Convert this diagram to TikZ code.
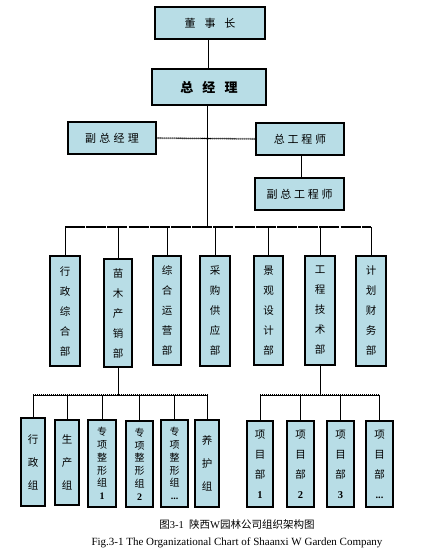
\documentclass[tikz,border=0pt]{standalone}
\usepackage{fontspec}
\newfontfamily\cjk{Noto Sans CJK SC}
\setmainfont{Liberation Serif}
\definecolor{boxblue}{RGB}{184,221,230}
\begin{document}
\begin{tikzpicture}[x=1pt,y=-1pt,
  box/.style={draw=black,line width=1.1pt,fill=boxblue,inner sep=0pt},
  topbox/.style={box,font=\cjk\fontsize{11}{13}\selectfont},
  deptbox/.style={box,align=center,font=\cjk\fontsize{10.5}{20}\selectfont},
  grpbox/.style={box,align=center,font=\cjk\fontsize{10.5}{23}\selectfont},
  tightbox/.style={box,align=center,font=\cjk\fontsize{10}{12.8}\selectfont},
  projbox/.style={box,align=center,font=\cjk\fontsize{10.5}{20}\selectfont},
  link/.style={line width=0.8pt},
  bus/.style={line width=2pt,dash pattern=on 20pt off 1.2pt},
  ticks/.style={line width=2pt,dash pattern=on 0.6pt off 1.4pt},
  thinline/.style={line width=0.6pt}]
\useasboundingbox (0,0) rectangle (435,553);
% top
\node[topbox,minimum width=110pt,minimum height=32pt] (ds) at (210,23) {董\hspace{0.8em}事\hspace{0.8em}长};
\node[topbox,minimum width=114pt,minimum height=36pt,font=\cjk\bfseries\fontsize{13}{15}\selectfont] (zjl) at (209,87) {总\hspace{0.7em}经\hspace{0.7em}理};
\node[topbox,minimum width=88pt,minimum height=32pt] (fzjl) at (112,138) {副\hspace{0.3em}总\hspace{0.3em}经\hspace{0.3em}理};
\node[topbox,minimum width=88pt,minimum height=32pt] (zgcs) at (300,139) {总\hspace{0.25em}工\hspace{0.25em}程\hspace{0.25em}师};
\node[topbox,minimum width=89pt,minimum height=32pt] (fzgcs) at (299.5,194) {副\hspace{0.25em}总\hspace{0.25em}工\hspace{0.25em}程\hspace{0.25em}师};
% departments
\node[deptbox,minimum width=30pt,minimum height=110pt] (d1) at (65,311) {行\\政\\综\\合\\部};
\node[deptbox,minimum width=28pt,minimum height=108pt] (d2) at (118,313) {苗\\木\\产\\销\\部};
\node[deptbox,minimum width=28pt,minimum height=109pt] (d3) at (167,310.5) {综\\合\\运\\营\\部};
\node[deptbox,minimum width=30pt,minimum height=110pt] (d4) at (215,311) {采\\购\\供\\应\\部};
\node[deptbox,minimum width=29pt,minimum height=109pt] (d5) at (268.5,310.5) {景\\观\\设\\计\\部};
\node[deptbox,minimum width=30pt,minimum height=109pt] (d6) at (320,310.5) {工\\程\\技\\术\\部};
\node[deptbox,minimum width=30pt,minimum height=110pt] (d7) at (371,311) {计\\划\\财\\务\\部};
% groups
\node[grpbox,minimum width=24pt,minimum height=88pt] (g1) at (33,462) {行\\政\\组};
\node[grpbox,minimum width=24pt,minimum height=85pt] (g2) at (67,462.5) {生\\产\\组};
\node[tightbox,minimum width=28pt,minimum height=87pt] (g3) at (102,463.5) {专\\项\\整\\形\\组\\{\rmfamily\bfseries 1}};
\node[tightbox,minimum width=27pt,minimum height=86pt] (g4) at (139.5,464) {专\\项\\整\\形\\组\\{\rmfamily\bfseries 2}};
\node[tightbox,minimum width=27pt,minimum height=87pt] (g5) at (174.5,463.5) {专\\项\\整\\形\\组\\{\rmfamily\bfseries ...}};
\node[grpbox,minimum width=24pt,minimum height=87pt] (g6) at (207,463.5) {养\\护\\组};
% projects
\node[projbox,minimum width=26pt,minimum height=86pt] (p1) at (260,464) {项\\目\\部\\{\rmfamily\bfseries 1}};
\node[projbox,minimum width=27pt,minimum height=86pt] (p2) at (300.5,464) {项\\目\\部\\{\rmfamily\bfseries 2}};
\node[projbox,minimum width=27pt,minimum height=86pt] (p3) at (340.5,464) {项\\目\\部\\{\rmfamily\bfseries 3}};
\node[projbox,minimum width=27pt,minimum height=86pt] (p4) at (379.5,464) {项\\目\\部\\{\rmfamily\bfseries ...}};
% bus coordinates
\coordinate (bm) at (207,227);
\coordinate (bl) at (65,227);
\coordinate (br) at (371,227);
\coordinate (lb) at (118,395);
\coordinate (lbl) at (33,395);
\coordinate (lbr) at (208,395);
\coordinate (rb) at (320,395);
\coordinate (rbl) at (260,395);
\coordinate (rbr) at (379.5,395);
% connectors
\draw[link] (ds.south -| 208,0) -- (zjl.north -| 208,0);
\draw[link] (zjl.south -| bm) -- (bm);
\draw[thinline] (fzjl.east) -- (zgcs.west);
\draw[ticks] (fzjl.east) -- (zgcs.west);
\draw[link] (zgcs.south -| 301,0) -- (fzgcs.north -| 301,0);
\draw[bus] (bl) -- (br);
\foreach \d in {d1,d2,d3,d4,d5,d6,d7}{\draw[link] (\d.north |- bl) -- (\d.north);}
\draw[link] (d2.south) -- (lb);
\draw[thinline] (lbl) -- (lbr);
\draw[ticks] (lbl) -- (lbr);
\foreach \g in {g1,g2,g3,g4,g5,g6}{\draw[link] (\g.north |- lbl) -- (\g.north);}
\draw[link] (d6.south) -- (rb);
\draw[thinline] (rbl) -- (rbr);
\draw[ticks] (rbl) -- (rbr);
\foreach \p in {p1,p2,p3,p4}{\draw[link] (\p.north |- rbl) -- (\p.north);}
% captions
\node[font=\cjk\fontsize{10.5}{12}\selectfont] (cap1) at (237,525) {图{\rmfamily 3-1}\hspace{0.5em}陕西{\rmfamily W}园林公司组织架构图};
\node[font=\fontsize{11}{12}\selectfont] (cap2) at (237,543) {Fig.3-1 The Organizational Chart of Shaanxi W Garden Company};
\end{tikzpicture}
\end{document}
